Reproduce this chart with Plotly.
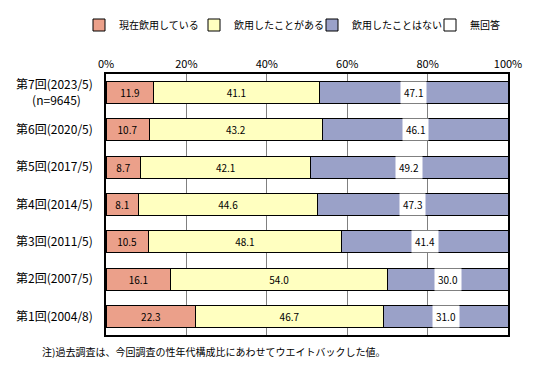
import plotly.graph_objects as go

categories = ["第7回(2023/5)<br>(n=9645)　", "第6回(2020/5)", "第5回(2017/5)", "第4回(2014/5)",
              "第3回(2011/5)", "第2回(2007/5)", "第1回(2004/8)"]
series_names = ["現在飲用している", "飲用したことがある", "飲用したことはない", "無回答"]
current = [11.9, 10.7, 8.7, 8.1, 10.5, 16.1, 22.3]
used_before = [41.1, 43.2, 42.1, 44.6, 48.1, 54.0, 46.7]
never = [47.1, 46.1, 49.2, 47.3, 41.4, 30.0, 31.0]
no_answer = [0, 0, 0, 0, 0, 0, 0]
tick_vals = [0, 20, 40, 60, 80, 100]
tick_text = ["0%", "20%", "40%", "60%", "80%", "100%"]
note = "注)過去調査は、今回調査の性年代構成比にあわせてウエイトバックした値。"

colors = ["#EBA08A", "#FFFFC0", "#9AA1C8", "#FFFFFF"]
FONT = "Noto Sans CJK JP"
legend_ids = ["legend", "legend2", "legend3", "legend4"]
legend_text_x = [119, 234, 352, 470]

fig = go.Figure()
all_vals = [current, used_before, never, no_answer]
for i, (name, vals) in enumerate(zip(series_names, all_vals)):
    show_text = i < 2
    fig.add_trace(go.Bar(
        y=categories, x=vals, name=name, orientation="h",
        marker=dict(color=colors[i], line=dict(color="black", width=1)),
        text=[f"{v:.1f}" for v in vals] if show_text else None,
        textposition="inside" if show_text else "none",
        insidetextanchor="middle",
        textfont=dict(family=FONT, size=10, color="black"),
        hoverinfo="skip",
        legend=legend_ids[i],
    ))

# white-boxed labels for the third series
for cat, a, b, c in zip(categories, current, used_before, never):
    start = a + b
    fig.add_annotation(
        x=(start + min(start + c, 100)) / 2, y=cat, xref="x", yref="y",
        text=f"{c:.1f}", showarrow=False, bgcolor="white",
        font=dict(family=FONT, size=10, color="black"),
        borderpad=3,
    )

fig.add_annotation(
    x=-0.164, y=-0.065, xref="paper", yref="paper", xanchor="left", yanchor="middle",
    text=note, showarrow=False,
    font=dict(family=FONT, size=10, color="black"),
)

legend_common = dict(orientation="h", xref="container", yref="container",
                     y=1 - 25 / 372, yanchor="middle", xanchor="left",
                     font=dict(family=FONT, size=10), itemwidth=30,
                     bgcolor="rgba(0,0,0,0)")
for lid, tx in zip(legend_ids, legend_text_x):
    fig.update_layout({lid: dict(legend_common, x=(tx - 40) / 541)})

fig.update_layout(
    barmode="stack",
    bargap=0.41,
    width=541, height=372,
    margin=dict(l=106, r=33, t=74, b=37, autoexpand=False),
    paper_bgcolor="white", plot_bgcolor="white",
    font=dict(family=FONT, size=11, color="black"),
    xaxis=dict(range=[0, 100], side="top", tickvals=tick_vals, ticktext=tick_text,
               showgrid=True, gridcolor="#808080", gridwidth=1,
               showline=True, linecolor="black", linewidth=1.5, mirror=True,
               zeroline=False, ticks="", fixedrange=True,
               tickfont=dict(family=FONT, size=11)),
    yaxis=dict(autorange="reversed", showline=True, linecolor="black", linewidth=1.5,
               mirror=True, ticks="", ticklabelstandoff=9,
               tickfont=dict(family=FONT, size=12)),
    showlegend=True,
)
fig.write_html("out.html", config={"displayModeBar": False},
               post_script="document.body.style.margin='0';")
